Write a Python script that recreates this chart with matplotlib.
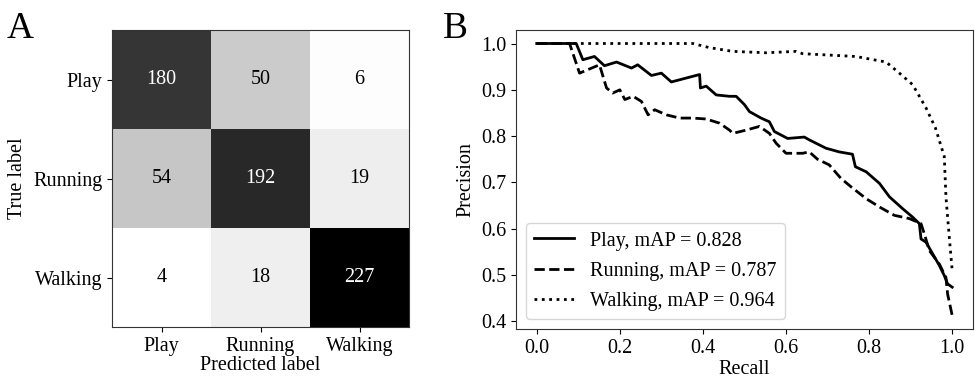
import numpy as np
import matplotlib.pyplot as plt

plt.rcParams['font.family'] = ['Liberation Serif', 'DejaVu Serif']
plt.rcParams['font.size'] = 14.5

classes = ["Play", "Running", "Walking"]
conf_mat = np.array([[180, 50, 6],
                     [54, 192, 19],
                     [4, 18, 227]])

# precision-recall curves per class
play_recall = [0.0, 0.095, 0.111, 0.139, 0.163, 0.192, 0.228, 0.243, 0.276, 0.30, 0.324,
               0.392, 0.394, 0.408, 0.432, 0.464, 0.48, 0.5, 0.512, 0.54, 0.56, 0.572,
               0.604, 0.644, 0.656, 0.696, 0.728, 0.76, 0.767, 0.793, 0.825, 0.849,
               0.88, 0.905, 0.921, 0.925, 0.937, 0.953, 0.969, 0.981, 0.989, 1.0]
play_precision = [1.0, 1.0, 0.965, 0.972, 0.952, 0.960, 0.947, 0.954, 0.931, 0.936, 0.917,
                  0.933, 0.904, 0.908, 0.889, 0.886, 0.886, 0.868, 0.853, 0.839, 0.831, 0.81,
                  0.795, 0.798, 0.792, 0.774, 0.766, 0.761, 0.734, 0.723, 0.698, 0.669,
                  0.644, 0.625, 0.611, 0.578, 0.571, 0.546, 0.521, 0.499, 0.481, 0.474]

run_recall = [0.0, 0.079, 0.103, 0.151, 0.168, 0.183, 0.2, 0.212, 0.232, 0.252, 0.268,
              0.284, 0.312, 0.344, 0.376, 0.408, 0.44, 0.464, 0.472, 0.504, 0.536, 0.56,
              0.576, 0.6, 0.64, 0.656, 0.676, 0.704, 0.732, 0.756, 0.793, 0.825, 0.861,
              0.897, 0.925, 0.933, 0.945, 0.969, 0.985, 0.989, 1.0]
run_precision = [1.0, 1.0, 0.936, 0.954, 0.904, 0.893, 0.9, 0.879, 0.886, 0.875, 0.846,
                 0.857, 0.846, 0.839, 0.839, 0.837, 0.828, 0.813, 0.806, 0.813, 0.821, 0.806,
                 0.785, 0.763, 0.763, 0.766, 0.750, 0.738, 0.709, 0.691, 0.665, 0.647, 0.629,
                 0.622, 0.611, 0.589, 0.553, 0.524, 0.495, 0.459, 0.413]

walk_recall = [0.0, 0.376, 0.416, 0.472, 0.552, 0.624, 0.64, 0.768, 0.841, 0.873, 0.905,
               0.937, 0.96, 0.981, 0.985, 0.993, 1.0]
walk_precision = [1.0, 1.0, 0.991, 0.983, 0.98, 0.983, 0.978, 0.972, 0.96, 0.936, 0.911,
                  0.861, 0.817, 0.756, 0.669, 0.582, 0.51]

map_scores = [0.828, 0.787, 0.964]

fig = plt.figure(figsize=(9.75, 3.81), dpi=100)

# --- A: confusion matrix ---
ax1 = fig.add_axes([0.1149, 0.1417, 0.3046, 0.7795])
ax1.imshow(conf_mat, cmap='gray_r', vmin=conf_mat.min(), vmax=conf_mat.max(), aspect='auto')
thresh = (conf_mat.max() + conf_mat.min()) / 2
for i in range(3):
    for j in range(3):
        ax1.text(j, i, str(conf_mat[i, j]), ha='center', va='center',
                 color='white' if conf_mat[i, j] > thresh else 'black')
ax1.set_xticks(range(3))
ax1.set_xticklabels(classes)
ax1.set_yticks(range(3))
ax1.set_yticklabels(classes)
ax1.set_xlabel("Predicted label", labelpad=0)
ax1.set_ylabel("True label")
for s in ax1.spines.values():
    s.set_color('#333333')

# --- B: precision-recall ---
ax2 = fig.add_axes([0.5292, 0.1365, 0.4687, 0.785])
ax2.plot(play_recall, play_precision, color='black', linestyle='-', lw=2,
         label="Play, mAP = " + str(map_scores[0]))
ax2.plot(run_recall, run_precision, color='black', linestyle='--', lw=2,
         label="Running, mAP = " + str(map_scores[1]))
ax2.plot(walk_recall, walk_precision, color='black', linestyle=':', lw=2,
         label="Walking, mAP = " + str(map_scores[2]))
ax2.set_xlabel("Recall", labelpad=2)
ax2.set_ylabel("Precision")
ax2.set_xticks([0.0, 0.2, 0.4, 0.6, 0.8, 1.0])
ax2.set_yticks([0.4, 0.5, 0.6, 0.7, 0.8, 0.9, 1.0])
ax2.legend(loc='lower left', labelspacing=0.55)
for s in ax2.spines.values():
    s.set_color('#333333')

fig.text(0.007, 0.9, "A", fontsize=27, ha='left', va='baseline')
fig.text(0.454, 0.9, "B", fontsize=27, ha='left', va='baseline')

fig.savefig("out.png", dpi=100)
